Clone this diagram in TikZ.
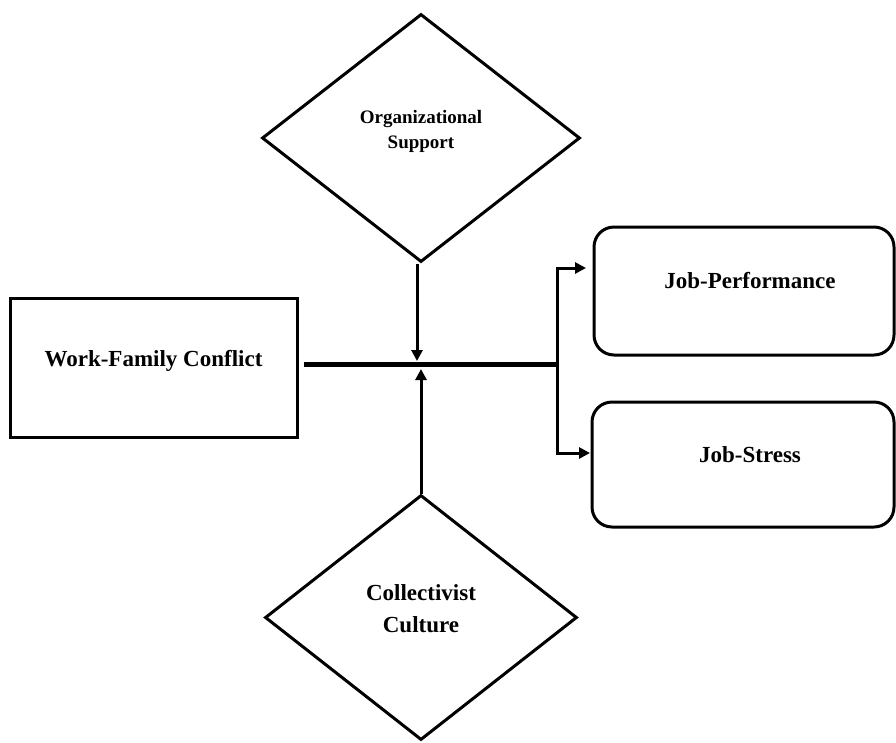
\documentclass[tikz,border=0pt]{standalone}
\usepackage{fontspec}
\setmainfont{Liberation Serif}
\usetikzlibrary{shapes.geometric,arrows.meta,calc}
\begin{document}
\begin{tikzpicture}[x=1pt,y=-1pt,
  sqbox/.style={draw,line width=3pt,inner sep=0pt},
  rbox/.style={draw,line width=3pt,rounded corners=20pt,inner sep=0pt},
  dmd/.style={draw,diamond,line width=3pt,inner sep=0pt},
  lbl/.style={font=\bfseries\fontsize{23}{32}\selectfont,align=center,inner sep=0pt},
  slbl/.style={font=\bfseries\fontsize{19}{25}\selectfont,align=center,inner sep=0pt},
  mainline/.style={line width=5pt},
  arr/.style={line width=3pt,line join=miter,-{Triangle[length=11pt,width=11pt]}}]
\useasboundingbox (0,0) rectangle (896,742);

% shapes
\node[sqbox, minimum width=287pt, minimum height=139pt] (wfc) at (153.5,367.5) {};
\node[rbox, minimum width=300pt, minimum height=128pt] (jp) at (744,291) {};
\node[rbox, minimum width=302pt, minimum height=125pt] (js) at (743,464.5) {};
\node[dmd, minimum width=318pt, minimum height=248pt] (os) at (421,138) {};
\node[dmd, minimum width=312pt, minimum height=245pt] (cc) at (421,617.5) {};

% labels
\node[lbl, anchor=base] (wfct) at (153.5,366) {Work-Family Conflict};
\node[lbl, anchor=base] (jpt) at (750,288) {Job-Performance};
\node[lbl, anchor=base] (jst) at (750,462) {Job-Stress};
\node[slbl] (ost) at (421,131) {Organizational\\Support};
\node[lbl] (cct) at (421,609) {Collectivist\\Culture};

% connectors
\coordinate (split) at (557,364);
\coordinate (jpin) at (586,268);
\coordinate (jsin) at (590,453);
\coordinate (dtip) at (417,361);
\coordinate (utip) at (421,369);

\draw[mainline] ($(wfc.east|-split)+(5,0)$) -- (split);
\draw[arr] (split) |- (jpin);
\draw[arr] (split) |- (jsin);
\draw[arr] (os.south -| dtip) -- (dtip);
\draw[arr] (cc.north) -- (utip);
\end{tikzpicture}
\end{document}
